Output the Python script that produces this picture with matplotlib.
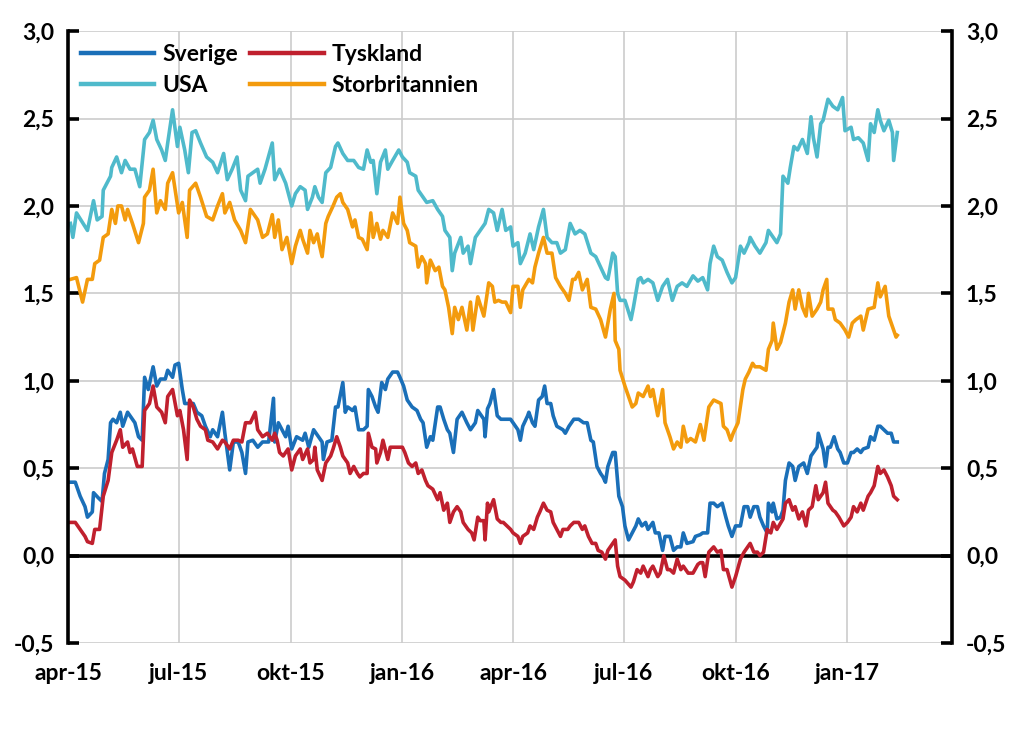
import numpy as np
import pandas as pd
import matplotlib
matplotlib.use("Agg")
import matplotlib.pyplot as plt
from matplotlib.ticker import FuncFormatter, MultipleLocator

# days after 2015-04-01 and yield-spread values
START = pd.Timestamp("2015-04-01")

se_days = [2, 6, 10, 14, 16, 20, 21, 25, 28, 30, 33, 35, 37, 40, 43, 45, 49, 53, 55, 58, 61, 63, 66, 70, 73, 76, 80, 82, 86, 88,
           91, 94, 96, 100, 103, 106, 110, 113, 117, 119, 123, 127, 129, 133, 136, 140, 143, 146, 148, 152, 156, 160, 165, 169, 170,
           173, 176, 179, 181, 184, 188, 193, 195, 198, 202, 206, 209, 210, 213, 217, 220, 222, 226, 228, 230, 234, 236, 239, 243,
           246, 247, 250, 253, 255, 258, 261, 263, 267, 271, 273, 276, 279, 283, 287, 290, 292, 295, 298, 300, 304, 306, 309, 312,
           314, 317, 320, 324, 328, 331, 335, 337, 342, 343, 345, 347, 350, 353, 356, 360, 364, 366, 370, 372, 374, 378, 379, 382,
           384, 387, 390, 392, 394, 397, 399, 402, 407, 409, 412, 416, 420, 424, 427, 430, 432, 435, 438, 440, 442, 444, 448, 450,
           453, 456, 458, 461, 464, 467, 469, 472, 475, 477, 481, 483, 486, 489, 491, 495, 498, 501, 504, 506, 509, 514, 516, 520,
           522, 526, 528, 531, 534, 538, 541, 543, 546, 549, 553, 556, 559, 561, 564, 567, 569, 572, 575, 576, 579, 580, 583, 586,
           588, 590, 593, 596, 598, 601, 605, 608, 611, 613, 616, 617, 621, 623, 625, 627, 630, 633, 635, 638, 641, 644, 646, 649,
           652, 654, 658, 660, 663, 666, 668, 671, 674, 677, 679, 682]
se_vals = [0.42, 0.42, 0.34, 0.28, 0.22, 0.25, 0.36, 0.33, 0.31, 0.47, 0.55, 0.76, 0.78, 0.76, 0.82, 0.74, 0.82, 0.78, 0.76, 0.68,
           0.66, 1.02, 0.95, 1.08, 0.97, 1.01, 1.01, 1.06, 1.02, 1.09, 1.10, 0.95, 0.87, 0.87, 0.87, 0.82, 0.80, 0.74, 0.68, 0.72,
           0.68, 0.82, 0.70, 0.49, 0.65, 0.65, 0.59, 0.47, 0.65, 0.66, 0.62, 0.65, 0.65, 0.90, 0.65, 0.76, 0.72, 0.68, 0.74, 0.61,
           0.68, 0.66, 0.70, 0.62, 0.72, 0.68, 0.65, 0.55, 0.65, 0.66, 0.85, 0.85, 0.99, 0.82, 0.85, 0.83, 0.85, 0.72, 0.72, 0.74,
           0.95, 0.91, 0.85, 0.82, 0.99, 0.95, 1.01, 1.05, 1.05, 1.02, 0.97, 0.89, 0.85, 0.83, 0.78, 0.76, 0.62, 0.68, 0.66, 0.85,
           0.85, 0.78, 0.72, 0.70, 0.59, 0.78, 0.82, 0.76, 0.72, 0.76, 0.83, 0.78, 0.68, 0.84, 0.87, 0.95, 0.80, 0.78, 0.78, 0.78,
           0.76, 0.72, 0.66, 0.74, 0.80, 0.82, 0.76, 0.74, 0.89, 0.91, 0.97, 0.87, 0.87, 0.80, 0.74, 0.72, 0.70, 0.74, 0.78, 0.78,
           0.76, 0.76, 0.66, 0.65, 0.51, 0.47, 0.45, 0.42, 0.51, 0.59, 0.59, 0.34, 0.28, 0.17, 0.09, 0.13, 0.17, 0.21, 0.17, 0.19,
           0.15, 0.19, 0.13, 0.13, 0.03, 0.11, 0.11, 0.03, 0.05, 0.05, 0.13, 0.07, 0.08, 0.11, 0.12, 0.13, 0.13, 0.30, 0.30, 0.28,
           0.30, 0.22, 0.17, 0.11, 0.17, 0.17, 0.28, 0.28, 0.22, 0.28, 0.28, 0.22, 0.17, 0.13, 0.30, 0.25, 0.30, 0.21, 0.22, 0.26,
           0.43, 0.53, 0.51, 0.43, 0.51, 0.53, 0.47, 0.57, 0.59, 0.62, 0.70, 0.61, 0.51, 0.62, 0.62, 0.68, 0.61, 0.59, 0.53, 0.53,
           0.59, 0.59, 0.61, 0.59, 0.61, 0.62, 0.68, 0.66, 0.74, 0.74, 0.72, 0.70, 0.70, 0.65, 0.65]

de_days = [2, 6, 10, 14, 16, 20, 22, 26, 29, 33, 36, 40, 43, 45, 49, 51, 53, 57, 61, 63, 67, 70, 73, 77, 80, 82, 86, 90, 92, 95,
           98, 100, 103, 106, 109, 113, 115, 119, 123, 127, 129, 133, 136, 140, 143, 146, 150, 154, 156, 160, 164, 168, 170, 172,
           174, 177, 181, 184, 187, 191, 193, 197, 199, 202, 203, 205, 209, 212, 216, 218, 221, 224, 226, 230, 232, 235, 238, 240,
           243, 246, 247, 250, 253, 254, 257, 259, 263, 265, 267, 272, 275, 277, 280, 283, 286, 288, 291, 294, 296, 300, 304, 306,
           309, 312, 314, 317, 320, 323, 325, 329, 332, 334, 337, 339, 342, 343, 345, 346, 350, 353, 356, 358, 361, 364, 366, 370,
           372, 374, 378, 380, 383, 386, 388, 391, 394, 397, 399, 402, 405, 407, 411, 413, 416, 420, 423, 425, 428, 431, 434, 436,
           439, 442, 444, 448, 450, 452, 454, 458, 463, 465, 468, 471, 473, 477, 479, 481, 485, 487, 490, 493, 495, 498, 501, 504,
           506, 510, 514, 518, 520, 522, 524, 527, 531, 534, 537, 539, 542, 546, 549, 553, 556, 559, 561, 564, 567, 569, 572, 575,
           578, 580, 583, 588, 590, 593, 596, 598, 601, 604, 607, 609, 612, 615, 617, 621, 623, 625, 629, 631, 634, 638, 641, 644,
           646, 649, 652, 654, 658, 660, 663, 666, 668, 671, 674, 677, 679, 682]
de_vals = [0.19, 0.19, 0.15, 0.11, 0.08, 0.07, 0.15, 0.15, 0.34, 0.43, 0.59, 0.66, 0.72, 0.62, 0.65, 0.59, 0.61, 0.51, 0.51, 0.83,
           0.87, 0.97, 0.85, 0.82, 0.76, 0.91, 0.95, 0.80, 0.83, 0.72, 0.55, 0.89, 0.85, 0.78, 0.74, 0.72, 0.66, 0.65, 0.61, 0.66,
           0.65, 0.61, 0.66, 0.66, 0.65, 0.76, 0.76, 0.82, 0.72, 0.68, 0.70, 0.66, 0.70, 0.66, 0.59, 0.57, 0.61, 0.49, 0.57, 0.61,
           0.55, 0.61, 0.53, 0.55, 0.62, 0.49, 0.43, 0.53, 0.57, 0.61, 0.68, 0.62, 0.57, 0.53, 0.47, 0.51, 0.47, 0.45, 0.47, 0.47,
           0.70, 0.62, 0.61, 0.53, 0.59, 0.66, 0.55, 0.62, 0.62, 0.62, 0.62, 0.59, 0.53, 0.51, 0.53, 0.47, 0.49, 0.43, 0.40, 0.38,
           0.32, 0.36, 0.26, 0.30, 0.19, 0.25, 0.28, 0.25, 0.19, 0.15, 0.13, 0.09, 0.22, 0.20, 0.20, 0.09, 0.30, 0.25, 0.32, 0.21,
           0.19, 0.19, 0.17, 0.15, 0.13, 0.11, 0.07, 0.11, 0.13, 0.17, 0.15, 0.22, 0.25, 0.30, 0.26, 0.25, 0.19, 0.15, 0.11, 0.15,
           0.15, 0.17, 0.19, 0.19, 0.15, 0.17, 0.11, 0.07, 0.07, 0.03, 0.02, -0.02, 0.03, 0.07, 0.09, -0.06, -0.12, -0.14, -0.18,
           -0.15, -0.08, -0.10, -0.06, -0.12, -0.08, -0.06, -0.12, -0.10, 0.00, -0.08, -0.08, -0.10, -0.02, -0.08, -0.06, -0.10,
           -0.10, -0.05, -0.04, -0.04, -0.12, 0.02, 0.05, 0.02, 0.03, -0.08, -0.08, -0.18, -0.12, -0.02, 0.02, 0.05, 0.07, 0.02,
           0.02, 0.00, 0.02, 0.15, 0.13, 0.19, 0.15, 0.21, 0.30, 0.32, 0.26, 0.28, 0.21, 0.25, 0.17, 0.26, 0.28, 0.40, 0.32, 0.36,
           0.42, 0.30, 0.26, 0.25, 0.22, 0.17, 0.19, 0.22, 0.28, 0.25, 0.30, 0.26, 0.34, 0.36, 0.40, 0.51, 0.47, 0.49, 0.45, 0.40,
           0.34, 0.32]

us_days = [2, 4, 7, 16, 21, 24, 28, 29, 35, 36, 40, 44, 47, 51, 55, 59, 63, 67, 70, 73, 77, 80, 82, 86, 90, 92, 96, 99, 102, 105,
           109, 114, 119, 123, 128, 131, 135, 139, 142, 146, 148, 156, 158, 162, 168, 170, 174, 179, 184, 187, 191, 195, 197, 201,
           203, 206, 209, 212, 216, 220, 222, 226, 230, 235, 239, 243, 246, 249, 251, 254, 257, 261, 263, 267, 272, 275, 279, 281,
           286, 288, 292, 295, 300, 304, 308, 310, 314, 316, 318, 323, 325, 329, 331, 335, 339, 343, 346, 350, 353, 357, 360, 364,
           366, 370, 372, 376, 380, 383, 387, 391, 394, 398, 402, 405, 409, 413, 417, 421, 425, 430, 434, 438, 442, 444, 448, 450,
           452, 454, 458, 463, 465, 469, 471, 473, 477, 481, 485, 489, 493, 497, 501, 505, 509, 514, 518, 522, 526, 528, 531, 534,
           538, 542, 546, 549, 553, 556, 560, 561, 565, 569, 574, 576, 580, 583, 586, 588, 592, 594, 597, 600, 604, 608, 611, 613,
           616, 619, 621, 625, 629, 633, 637, 639, 644, 646, 650, 654, 658, 660, 663, 666, 668, 671, 675, 678, 679, 682]
us_vals = [1.90, 1.82, 1.96, 1.86, 2.03, 1.92, 1.94, 2.09, 2.17, 2.22, 2.28, 2.19, 2.26, 2.21, 2.21, 2.11, 2.38, 2.42, 2.49, 2.38,
           2.32, 2.26, 2.36, 2.55, 2.34, 2.45, 2.32, 2.19, 2.42, 2.43, 2.36, 2.28, 2.25, 2.19, 2.30, 2.15, 2.21, 2.28, 2.09, 2.03,
           2.17, 2.21, 2.13, 2.21, 2.36, 2.15, 2.21, 2.13, 2.00, 2.07, 2.11, 2.09, 1.98, 2.05, 2.11, 2.05, 2.02, 2.19, 2.22, 2.34,
           2.36, 2.30, 2.26, 2.26, 2.22, 2.21, 2.32, 2.25, 2.26, 2.07, 2.25, 2.32, 2.21, 2.26, 2.32, 2.28, 2.25, 2.19, 2.17, 2.09,
           2.05, 2.02, 2.03, 1.98, 1.94, 1.86, 1.82, 1.63, 1.73, 1.82, 1.73, 1.77, 1.67, 1.82, 1.86, 1.90, 1.98, 1.96, 1.86, 1.98,
           1.86, 1.88, 1.77, 1.79, 1.67, 1.73, 1.84, 1.75, 1.88, 1.98, 1.82, 1.79, 1.79, 1.73, 1.75, 1.90, 1.84, 1.86, 1.84, 1.73,
           1.71, 1.65, 1.59, 1.58, 1.73, 1.71, 1.50, 1.46, 1.46, 1.35, 1.42, 1.58, 1.59, 1.56, 1.58, 1.56, 1.46, 1.54, 1.58, 1.46,
           1.54, 1.56, 1.54, 1.60, 1.57, 1.59, 1.52, 1.67, 1.77, 1.71, 1.69, 1.62, 1.56, 1.59, 1.77, 1.73, 1.79, 1.82, 1.77, 1.73,
           1.79, 1.86, 1.82, 1.79, 1.84, 2.17, 2.13, 2.22, 2.34, 2.32, 2.38, 2.30, 2.51, 2.39, 2.28, 2.47, 2.49, 2.61, 2.57, 2.55,
           2.62, 2.43, 2.45, 2.38, 2.39, 2.36, 2.26, 2.47, 2.42, 2.55, 2.49, 2.43, 2.49, 2.42, 2.26, 2.42]

uk_days = [2, 7, 12, 16, 20, 22, 26, 29, 33, 36, 39, 41, 44, 47, 49, 53, 58, 62, 63, 67, 70, 73, 76, 80, 82, 86, 91, 94, 98, 100,
           105, 109, 114, 119, 123, 127, 129, 133, 137, 142, 146, 150, 156, 160, 164, 168, 170, 173, 176, 180, 184, 187, 191, 193,
           197, 199, 202, 205, 207, 209, 212, 214, 218, 221, 224, 226, 230, 234, 236, 239, 242, 246, 249, 251, 254, 257, 259, 263,
           267, 271, 273, 276, 279, 281, 286, 288, 291, 294, 295, 298, 302, 305, 308, 310, 313, 316, 318, 321, 324, 328, 331, 333,
           337, 342, 346, 349, 351, 354, 357, 360, 364, 366, 370, 372, 374, 379, 382, 384, 387, 391, 394, 398, 401, 405, 409, 412,
           415, 417, 420, 423, 427, 430, 434, 438, 442, 446, 449, 450, 453, 454, 458, 464, 467, 469, 473, 477, 479, 481, 485, 489,
           491, 495, 498, 501, 504, 506, 509, 512, 516, 520, 523, 527, 531, 537, 539, 542, 545, 547, 551, 555, 557, 560, 563, 565,
           569, 574, 576, 579, 580, 583, 586, 590, 593, 596, 598, 601, 604, 607, 609, 612, 616, 619, 621, 624, 625, 629, 631, 635,
           639, 642, 645, 648, 652, 654, 658, 663, 666, 668, 672, 675, 678, 681, 682]
uk_vals = [1.58, 1.59, 1.45, 1.58, 1.58, 1.67, 1.69, 1.82, 1.84, 1.98, 1.90, 2.00, 2.00, 1.92, 1.98, 1.90, 1.79, 1.90, 2.05, 2.09,
           2.21, 1.96, 2.03, 1.98, 2.13, 2.19, 1.96, 2.02, 1.82, 2.09, 2.13, 2.05, 1.94, 1.92, 2.00, 2.07, 1.96, 2.02, 1.92, 1.86,
           1.79, 1.98, 1.92, 1.82, 1.84, 1.95, 1.82, 1.92, 1.75, 1.82, 1.67, 1.77, 1.86, 1.81, 1.73, 1.86, 1.79, 1.84, 1.77, 1.71,
           1.90, 1.94, 2.00, 2.05, 2.07, 2.02, 1.98, 1.88, 1.92, 1.82, 1.81, 1.75, 1.96, 1.82, 1.90, 1.81, 1.86, 1.82, 1.96, 1.90,
           2.05, 1.90, 1.86, 1.79, 1.77, 1.65, 1.71, 1.67, 1.56, 1.69, 1.63, 1.65, 1.54, 1.52, 1.42, 1.27, 1.42, 1.35, 1.42, 1.29,
           1.45, 1.29, 1.48, 1.37, 1.56, 1.54, 1.45, 1.46, 1.45, 1.45, 1.39, 1.54, 1.54, 1.42, 1.52, 1.58, 1.56, 1.65, 1.73, 1.82,
           1.73, 1.73, 1.59, 1.54, 1.50, 1.46, 1.58, 1.58, 1.62, 1.52, 1.58, 1.42, 1.41, 1.35, 1.25, 1.41, 1.50, 1.23, 1.18, 1.06,
           0.97, 0.85, 0.87, 0.93, 0.91, 0.97, 0.91, 0.95, 0.80, 0.95, 0.76, 0.68, 0.61, 0.65, 0.62, 0.74, 0.65, 0.67, 0.65, 0.75,
           0.66, 0.85, 0.89, 0.87, 0.74, 0.72, 0.66, 0.70, 0.76, 0.95, 1.01, 1.05, 1.10, 1.08, 1.08, 1.06, 1.18, 1.23, 1.33, 1.18,
           1.22, 1.33, 1.45, 1.52, 1.41, 1.52, 1.42, 1.37, 1.50, 1.37, 1.41, 1.45, 1.52, 1.58, 1.41, 1.41, 1.35, 1.33, 1.29, 1.25,
           1.33, 1.35, 1.37, 1.29, 1.41, 1.42, 1.56, 1.48, 1.54, 1.37, 1.31, 1.25, 1.26]

tick_dates = ["2015-04-01", "2015-07-01", "2015-10-01", "2016-01-01", "2016-04-01",
              "2016-07-01", "2016-10-01", "2017-01-01"]
tick_labels = ["apr-15", "jul-15", "okt-15", "jan-16", "apr-16", "jul-16", "okt-16", "jan-17"]


def to_dates(days):
    return START + pd.to_timedelta(days, unit="D")


FONT = "Lato"
FS = 16.5
fig = plt.figure(figsize=(10.24, 7.40), dpi=100)
ax = fig.add_axes([0.0664, 0.131, 0.8633, 0.827])

LW = 2.6
ax.plot(to_dates(se_days), se_vals, color="#1a6fb8", lw=LW, label="Sverige")
ax.plot(to_dates(de_days), de_vals, color="#c0202e", lw=LW, label="Tyskland")
ax.plot(to_dates(us_days), us_vals, color="#4fbacb", lw=LW, label="USA")
ax.plot(to_dates(uk_days), uk_vals, color="#f39b0d", lw=LW, label="Storbritannien")

ax.axhline(0, color="black", lw=2.6, zorder=1)

ax.set_ylim(-0.5, 3.0)
ax.set_xlim(START, START + pd.Timedelta(days=727))
ax.yaxis.set_major_locator(MultipleLocator(0.5))
ax.yaxis.set_major_formatter(FuncFormatter(lambda v, p: f"{v:.1f}".replace(".", ",")))
ax.set_xticks(pd.to_datetime(tick_dates))
ax.set_xticklabels(tick_labels)

ax.grid(True, color="#cccccc", lw=1.2)
ax.set_axisbelow(True)

for side in ["top", "bottom"]:
    ax.spines[side].set_visible(False)
for side in ["left", "right"]:
    ax.spines[side].set_linewidth(2.6)
    ax.spines[side].set_color("black")

ax.tick_params(axis="y", which="both", left=True, right=True, labelleft=True, labelright=True,
               direction="in", length=8, width=2.6, pad=10)
ax.tick_params(axis="x", length=0, pad=14)
for lab in ax.get_xticklabels():
    lab.set_fontfamily(FONT)
    lab.set_fontweight("bold")
    lab.set_fontsize(FS)
for t in ax.yaxis.get_major_ticks():
    for lab in (t.label1, t.label2):
        lab.set_fontfamily(FONT)
        lab.set_fontweight("bold")
        lab.set_fontsize(FS)

handles, labels = ax.get_legend_handles_labels()
order = [0, 2, 1, 3]
leg = ax.legend([handles[i] for i in order], [labels[i] for i in order], ncol=2, loc="upper left",
                frameon=False, handlelength=3.2, columnspacing=0.55, handletextpad=0.35,
                borderaxespad=0.15, labelspacing=0.45,
                prop={"family": FONT, "weight": "bold", "size": FS})
for line in leg.get_lines():
    line.set_linewidth(3.2)

fig.savefig("out.png", dpi=100)
